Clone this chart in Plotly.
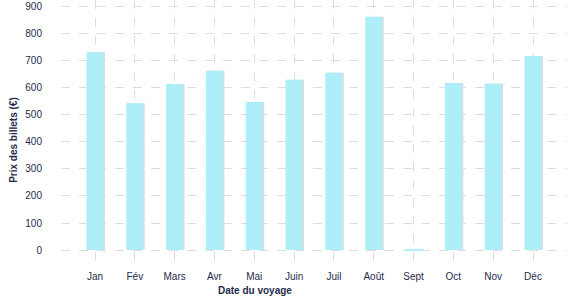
import plotly.graph_objects as go

months = ["Jan", "Fév", "Mars", "Avr", "Mai", "Juin", "Juil", "Août", "Sept", "Oct", "Nov", "Déc"]
prices = [732, 543, 614, 663, 548, 630, 656, 863, 4, 618, 615, 718]
y_ticks = [0, 100, 200, 300, 400, 500, 600, 700, 800, 900]

text_color = "#1f2b4d"
bar_color = "#aeeef8"
shadow_color = "#dcdcdc"
bw = 0.43

fig = go.Figure()
fig.add_trace(go.Bar(
    x=list(range(len(months))), y=prices, width=bw, offset=-bw / 2 + 0.035,
    marker=dict(color=shadow_color, line=dict(width=0)), hoverinfo="skip", showlegend=False,
))
fig.add_trace(go.Bar(
    x=list(range(len(months))), y=prices, width=bw, offset=-bw / 2,
    marker=dict(color=bar_color, line=dict(width=0)), showlegend=False,
))

fig.update_layout(
    width=577, height=300,
    margin=dict(l=61, r=10, t=0, b=37),
    barmode="overlay",
    plot_bgcolor="white", paper_bgcolor="white",
    font=dict(family="Liberation Sans, Arial, sans-serif", size=10, color=text_color),
    xaxis=dict(
        tickmode="array", tickvals=list(range(len(months))), ticktext=months,
        range=[-0.854, 11.854], showgrid=True, gridcolor="#dddddd", griddash="dash",
        gridwidth=1, zeroline=False, showline=False, ticks="", ticklabelstandoff=6,
    ),
    yaxis=dict(
        tickmode="array", tickvals=y_ticks, range=[-48, 925],
        showgrid=True, gridcolor="#dddddd", griddash="dash", gridwidth=1,
        zeroline=False, showline=False, ticks="", ticklabelstandoff=18,
    ),
    annotations=[
        dict(text="<b>Prix des billets (€)</b>", xref="paper", yref="paper",
             x=-0.094, y=0.47, xanchor="center", yanchor="middle",
             textangle=-90, showarrow=False, font=dict(size=10, color=text_color)),
        dict(text="<b>Date du voyage</b>", xref="paper", yref="paper",
             x=(255 - 61) / 506, y=-0.103, xanchor="center", yanchor="middle",
             showarrow=False, font=dict(size=10, color=text_color)),
    ],
)

fig.write_html("out.html")
